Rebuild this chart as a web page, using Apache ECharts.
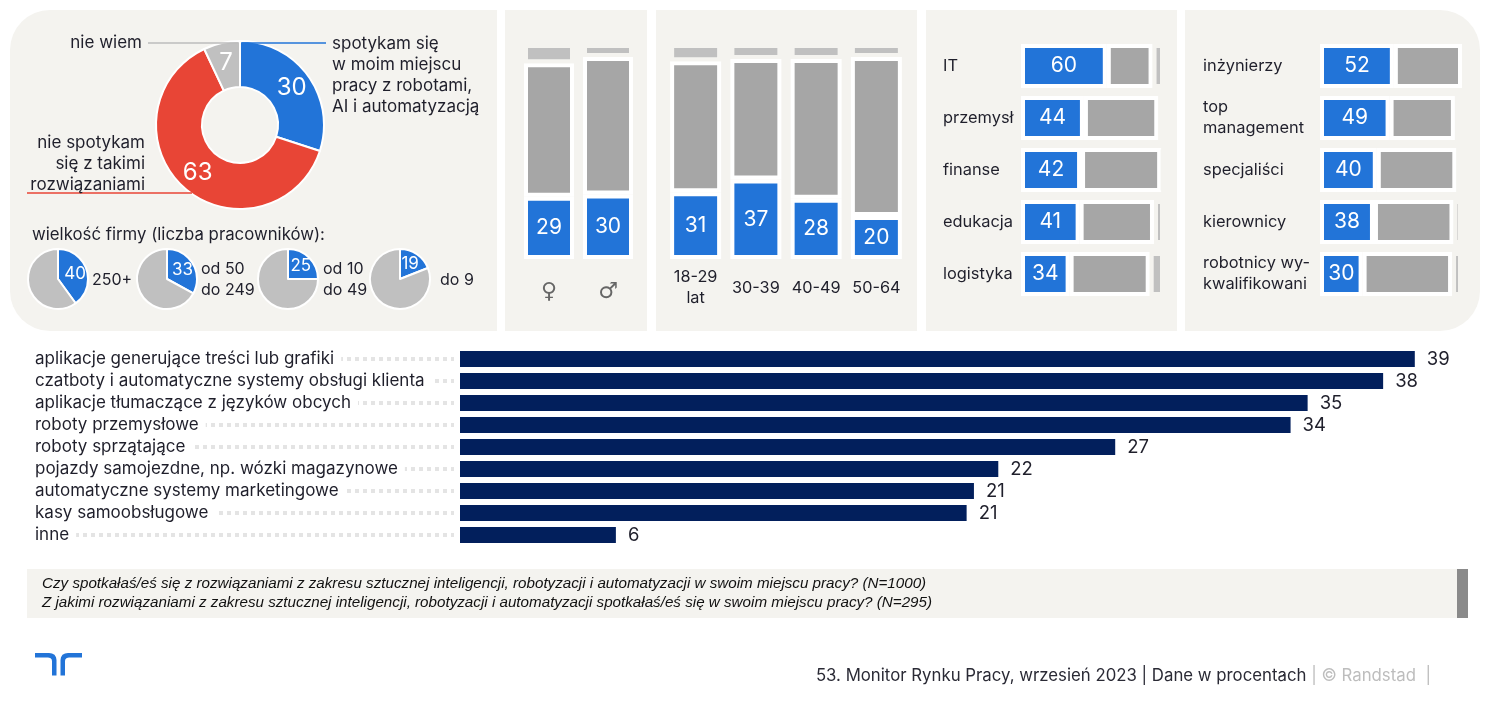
<!DOCTYPE html>
<html><head><meta charset="utf-8">
<script src="https://cdn.jsdelivr.net/npm/echarts@6/dist/echarts.min.js"></script>
<style>html,body{margin:0;padding:0;background:#fff}#c{width:1486px;height:702px}</style>
</head><body><div id="c"></div><script>
// ---------- DATA ----------
const donutNames = ['spotykam się w moim miejscu pracy z robotami, AI i automatyzacją', 'nie spotykam się z takimi rozwiązaniami', 'nie wiem'];
const donutValues = [30, 63, 7];

const sizeCats = ['250+', 'od 50\ndo 249', 'od 10\ndo 49', 'do 9'];
const sizeYes = [40, 33, 25, 19];
const sizeRest = [60, 67, 75, 81];

const genderCats = ['♀', '♂'];
const genderYes = [29, 30];
const genderNo = [62, 64];
const genderDk = [9, 6];

const ageCats = ['18-29\nlat', '30-39', '40-49', '50-64'];
const ageYes = [31, 37, 28, 20];
const ageNo = [61, 56, 65, 74];
const ageDk = [8, 7, 7, 6];

const indCats = ['IT', 'przemysł', 'finanse', 'edukacja', 'logistyka'];
const indYes = [60, 44, 42, 41, 34];
const indNo = [32, 52, 56, 52, 56];
const indDk = [8, 4, 2, 7, 10];

const posCats = ['inżynierzy', 'top\nmanagement', 'specjaliści', 'kierownicy', 'robotnicy wy-\nkwalifikowani'];
const posYes = [52, 49, 40, 38, 30];
const posNo = [48, 46, 56, 56, 63];
const posDk = [0, 5, 4, 6, 7];

const toolCats = ['aplikacje generujące treści lub grafiki', 'czatboty i automatyczne systemy obsługi klienta', 'aplikacje tłumaczące z języków obcych', 'roboty przemysłowe', 'roboty sprzątające', 'pojazdy samojezdne, np. wózki magazynowe', 'automatyczne systemy marketingowe', 'kasy samoobsługowe', 'inne'];
const toolValues = [39.2, 37.9, 34.8, 34.1, 26.9, 22.1, 21.1, 20.8, 6.4];

const sizeTitle = 'wielkość firmy (liczba pracowników):';
const footnote1 = 'Czy spotkałaś/eś się z rozwiązaniami z zakresu sztucznej inteligencji, robotyzacji i automatyzacji w swoim miejscu pracy? (N=1000)';
const footnote2 = 'Z jakimi rozwiązaniami z zakresu sztucznej inteligencji, robotyzacji i automatyzacji spotkałaś/eś się w swoim miejscu pracy? (N=295)';
const sourceMain = '53. Monitor Rynku Pracy, wrzesień 2023 | Dane w procentach';
const sourceBrand = ' | © Randstad  |';

// ---------- STYLE ----------
const BLUE = '#2274d8', RED = '#e84536', DARK = '#a6a6a6', LIGHT = '#c0c0c0', NAVY = '#021f5c', BG = '#f4f3ef', TXT = '#1f1f2b';
const FONT = 'Inter, "Noto Sans", sans-serif';

function stack(xi, yi, yes, no, dk, bw, name) {
  const fix = arr => arr.map(v => v === 0 ? { value: 0, itemStyle: { borderWidth: 0 } } : v);
  return [
    { type: 'bar', name: name + '-tak', xAxisIndex: xi, yAxisIndex: yi, stack: name, data: yes, barWidth: bw,
      itemStyle: { color: BLUE, borderColor: '#fff', borderWidth: 4 },
      label: { show: true, position: 'inside', color: '#fff', fontSize: 21, fontFamily: FONT } },
    { type: 'bar', name: name + '-nie', xAxisIndex: xi, yAxisIndex: yi, stack: name, data: no, barWidth: bw,
      itemStyle: { color: DARK, borderColor: '#fff', borderWidth: 4 } },
    { type: 'bar', name: name + '-nw', xAxisIndex: xi, yAxisIndex: yi, stack: name, data: fix(dk), barWidth: bw,
      itemStyle: { color: LIGHT, borderColor: BG, borderWidth: 4 } }
  ];
}

const hidden = { show: false };
const sizeCenters = [[58, 279], [167, 279], [288, 279], [400, 279]];
const sizeLabelX = [92, 201, 323, 440];

const logoLeft = [[35,653],[49,653],[52,653.4],[54.5,654.8],[56,657.2],[56.5,660],[56.5,675.5],[52,675.5],[52,661],[51.6,659.2],[50.2,658],[48,657.5],[35,657.5]];
const logoRight = logoLeft.map(p => [117 - p[0], p[1]]);

const option = {
  animation: false,
  backgroundColor: '#fff',
  textStyle: { fontFamily: FONT },
  grid: [
    { left: 519.5, width: 118, top: 44, height: 215 },
    { left: 665.5, width: 241, top: 44, height: 215 },
    { left: 1021, width: 143, top: 40, height: 260 },
    { left: 1320, width: 142, top: 40, height: 260 },
    { left: 460, width: 1023, top: 348, height: 198 },
    { left: 35, width: 419, top: 359, height: 176 }
  ],
  xAxis: [
    { type: 'category', gridIndex: 0, data: genderCats, axisLine: hidden, axisTick: hidden,
      axisLabel: { color: '#666', fontSize: 22, margin: 33, verticalAlign: 'middle', fontFamily: '"DejaVu Sans", sans-serif' } },
    { type: 'category', gridIndex: 1, data: ageCats, axisLine: hidden, axisTick: hidden,
      axisLabel: { color: TXT, fontSize: 16.3, margin: 29, verticalAlign: 'middle', lineHeight: 21, interval: 0 } },
    { type: 'value', gridIndex: 2, min: 0, max: 100, show: false },
    { type: 'value', gridIndex: 3, min: 0, max: 100, show: false },
    { type: 'value', gridIndex: 4, min: 0, max: 42, show: false },
    { type: 'value', gridIndex: 5, min: 0, max: 1, show: false }
  ],
  yAxis: [
    { type: 'value', gridIndex: 0, min: 0, max: 100, show: false },
    { type: 'value', gridIndex: 1, min: 0, max: 100, show: false },
    { type: 'category', gridIndex: 2, data: indCats, inverse: true, axisLine: hidden, axisTick: hidden,
      axisLabel: { align: 'left', margin: 78, color: TXT, fontSize: 16.4, lineHeight: 21 } },
    { type: 'category', gridIndex: 3, data: posCats, inverse: true, axisLine: hidden, axisTick: hidden,
      axisLabel: { align: 'left', margin: 117, color: TXT, fontSize: 16.4, lineHeight: 21 } },
    { type: 'category', gridIndex: 4, data: toolCats, inverse: true, show: false },
    { type: 'category', gridIndex: 5, data: toolCats, inverse: true, boundaryGap: false,
      axisLine: hidden, axisTick: hidden,
      axisLabel: { inside: true, margin: 0, align: 'left', interval: 0, color: TXT, fontSize: 17,
        backgroundColor: '#fff', padding: [3, 7, 3, 0] },
      splitLine: { show: true, interval: 0, lineStyle: { color: '#e4e4e4', width: 4, type: [4, 4] } } }
  ],
  series: [
    { type: 'pie', center: [240, 125], radius: [38, 84], startAngle: 90, clockwise: true,
      data: donutNames.map((n, i) => ({ name: n, value: donutValues[i], itemStyle: { color: [BLUE, RED, LIGHT][i] } })),
      itemStyle: { borderColor: '#fff', borderWidth: 2 },
      label: { show: true, position: 'inside', formatter: '{c}', color: '#fff', fontSize: 24, fontFamily: FONT },
      labelLine: { show: false }, silent: true },
    ...sizeYes.map((v, i) => ({
      type: 'pie', center: sizeCenters[i], radius: [0, 30], startAngle: 90, clockwise: true, silent: true,
      itemStyle: { borderColor: '#fff', borderWidth: 2 },
      data: [
        { name: sizeCats[i] + ' tak', value: v, itemStyle: { color: BLUE },
          label: { show: true, position: 'inside', formatter: '{c}', color: '#fff', fontSize: 17, fontFamily: FONT } },
        { name: sizeCats[i] + ' inne', value: sizeRest[i], itemStyle: { color: LIGHT }, label: { show: false } }
      ],
      labelLine: { show: false }
    })),
    ...stack(0, 0, genderYes, genderNo, genderDk, 50, 'plec'),
    ...stack(1, 1, ageYes, ageNo, ageDk, 51, 'wiek'),
    ...stack(2, 2, indYes, indNo, indDk, 44, 'branza'),
    ...stack(3, 3, posYes, posNo, posDk, 44, 'stanowisko'),
    { type: 'bar', xAxisIndex: 4, yAxisIndex: 4, data: toolValues, barWidth: 16,
      itemStyle: { color: NAVY },
      label: { show: true, position: 'right', distance: 12, color: TXT, fontSize: 18.5, fontFamily: FONT,
        formatter: p => Math.round(p.value) } }
  ],
  graphic: [
    { type: 'rect', z: -10, silent: true, shape: { x: 10, y: 10, width: 487, height: 321, r: [40, 0, 0, 40] }, style: { fill: BG } },
    { type: 'rect', z: -10, silent: true, shape: { x: 505, y: 10, width: 142, height: 321 }, style: { fill: BG } },
    { type: 'rect', z: -10, silent: true, shape: { x: 656, y: 10, width: 261, height: 321 }, style: { fill: BG } },
    { type: 'rect', z: -10, silent: true, shape: { x: 926, y: 10, width: 251, height: 321 }, style: { fill: BG } },
    { type: 'rect', z: -10, silent: true, shape: { x: 1185, y: 10, width: 295, height: 321, r: [0, 40, 40, 0] }, style: { fill: BG } },
    { type: 'line', z: 5, silent: true, shape: { x1: 148, y1: 43, x2: 238, y2: 43 }, style: { stroke: '#bdbdbd', lineWidth: 1.5 } },
    { type: 'line', z: 5, silent: true, shape: { x1: 242, y1: 43, x2: 326, y2: 43 }, style: { stroke: BLUE, lineWidth: 1.5 } },
    { type: 'line', z: 5, silent: true, shape: { x1: 27, y1: 193, x2: 192, y2: 193 }, style: { stroke: RED, lineWidth: 1.5 } },
    { type: 'text', z: 5, silent: true, x: 142, y: 43, style: { text: donutNames[2], font: '17px ' + FONT, fill: TXT, textAlign: 'right', textVerticalAlign: 'middle' } },
    { type: 'text', z: 5, silent: true, x: 332, y: 33, style: { text: 'spotykam się\nw moim miejscu\npracy z robotami,\nAI i automatyzacją', font: '17px ' + FONT, lineHeight: 21, fill: TXT, textAlign: 'left', textVerticalAlign: 'top' } },
    { type: 'text', z: 5, silent: true, x: 145, y: 132, style: { text: 'nie spotykam\nsię z takimi\nrozwiązaniami', font: '17px ' + FONT, lineHeight: 21, fill: TXT, textAlign: 'right', textVerticalAlign: 'top' } },
    { type: 'text', z: 5, silent: true, x: 32, y: 235, style: { text: sizeTitle, font: '16.8px ' + FONT, fill: TXT, textVerticalAlign: 'middle' } },
    ...sizeCats.map((c, i) => ({ type: 'text', z: 5, silent: true, x: sizeLabelX[i], y: 280,
      style: { text: c, font: '16px ' + FONT, lineHeight: 21, fill: TXT, textVerticalAlign: 'middle' } })),
    { type: 'rect', z: -10, silent: true, shape: { x: 27, y: 569, width: 1441, height: 49 }, style: { fill: BG } },
    { type: 'rect', z: -9, silent: true, shape: { x: 1457, y: 569, width: 11, height: 49 }, style: { fill: '#8a8a8a' } },
    { type: 'text', z: 5, silent: true, x: 42, y: 584, style: { text: footnote1, font: 'italic 15.2px "Liberation Sans", Arial, sans-serif', fill: '#111', textVerticalAlign: 'middle' } },
    { type: 'text', z: 5, silent: true, x: 42, y: 603, style: { text: footnote2, font: 'italic 15.2px "Liberation Sans", Arial, sans-serif', fill: '#111', textVerticalAlign: 'middle' } },
    { type: 'text', z: 5, silent: true, x: 1431, y: 676, style: {
        text: '{a|' + sourceMain + '}{b|' + sourceBrand + '}', textAlign: 'right', textVerticalAlign: 'middle',
        rich: { a: { fill: '#2a2a35', font: '16.8px ' + FONT }, b: { fill: '#bdbdbd', font: '16.8px ' + FONT } } } },
    { type: 'polygon', z: 5, silent: true, shape: { points: logoLeft }, style: { fill: BLUE } },
    { type: 'polygon', z: 5, silent: true, shape: { points: logoRight }, style: { fill: BLUE } }
  ]
};
const chart = echarts.init(document.getElementById('c'), null, { renderer: 'canvas' });
chart.setOption(option);
</script></body></html>
